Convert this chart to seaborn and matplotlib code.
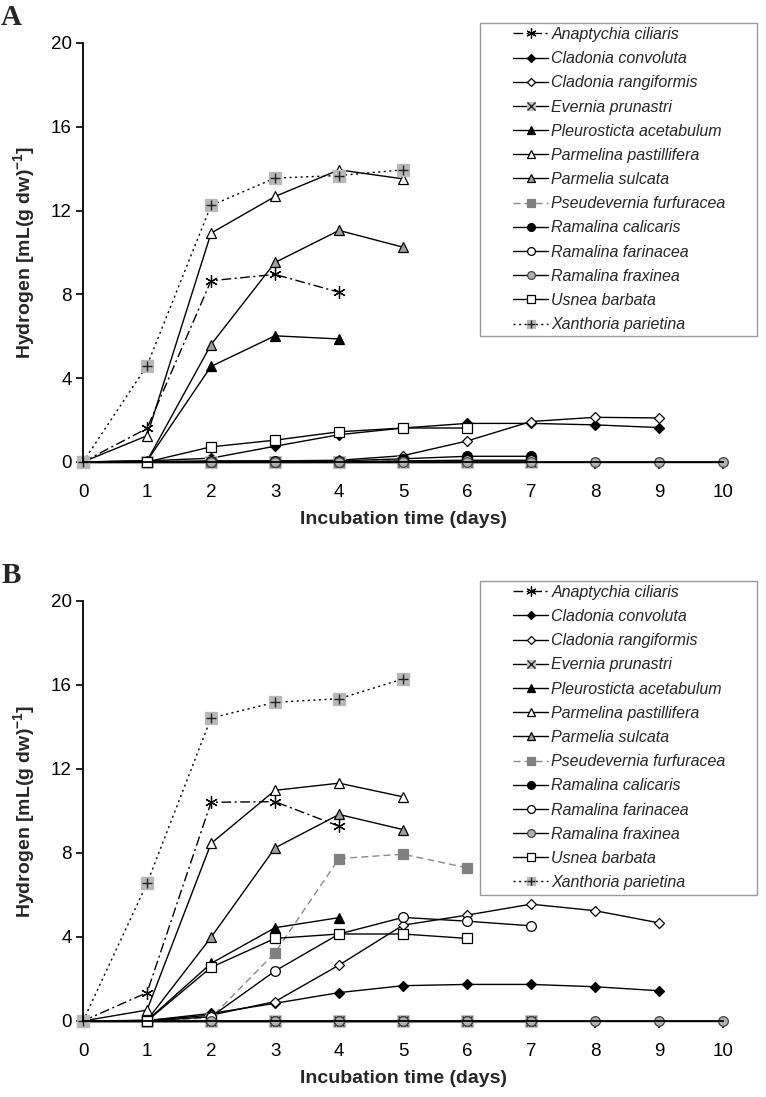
import matplotlib
matplotlib.use('Agg')
import matplotlib.pyplot as plt
import seaborn as sns
from matplotlib.lines import Line2D
from matplotlib.patches import Rectangle
from matplotlib.legend_handler import HandlerTuple

sns.set_style('ticks')
plt.rcParams['font.family'] = ['Liberation Sans', 'DejaVu Sans']
plt.rcParams['mathtext.fontset'] = 'custom'
plt.rcParams['mathtext.bf'] = 'Liberation Sans:bold'
plt.rcParams['mathtext.rm'] = 'Liberation Sans'

# data
days = [0, 1, 2, 3, 4, 5, 6, 7, 8, 9, 10]
species = ['Anaptychia ciliaris', 'Cladonia convoluta', 'Cladonia rangiformis',
           'Evernia prunastri', 'Pleurosticta acetabulum', 'Parmelina pastillifera',
           'Parmelia sulcata', 'Pseudevernia furfuracea', 'Ramalina calicaris',
           'Ramalina farinacea', 'Ramalina fraxinea', 'Usnea barbata',
           'Xanthoria parietina']
y_ticks = [0, 4, 8, 12, 16, 20]

# panel A
a_anaptychia = [0, 1.6, 8.65, 8.95, 8.1]
a_convoluta = [0, 0.05, 0.18, 0.75, 1.3, 1.62, 1.84, 1.84, 1.77, 1.64]
a_rangiformis = [0, 0.02, 0.03, 0.05, 0.08, 0.3, 1.0, 1.93, 2.13, 2.1]
a_evernia = [0, 0, 0, 0, 0, 0, 0, 0]
a_pleurosticta = [0, 0.05, 4.56, 6.02, 5.87]
a_parmelina = [0, 1.25, 10.92, 12.67, 13.94, 13.51]
a_sulcata = [0, 0.05, 5.6, 9.52, 11.05, 10.25]
a_pseudevernia = [0, 0, 0, 0, 0, 0.05, 0.05]
a_calicaris = [0, 0, 0.05, 0.05, 0.05, 0.15, 0.27, 0.27]
a_farinacea = [0, 0, 0, 0, 0, 0.05, 0.08, 0.08]
a_fraxinea = [0, 0, 0, 0, 0, 0, 0, 0, 0, 0, 0]
a_usnea = [0, 0, 0.72, 1.04, 1.44, 1.62, 1.62]
a_xanthoria = [0, 4.6, 12.24, 13.55, 13.67, 13.94]

# panel B
b_anaptychia = [0, 1.35, 10.41, 10.44, 9.27]
b_convoluta = [0, 0.02, 0.36, 0.84, 1.35, 1.68, 1.74, 1.74, 1.63, 1.44]
b_rangiformis = [0, 0.02, 0.28, 0.92, 2.66, 4.56, 5.04, 5.56, 5.25, 4.67]
b_evernia = [0, 0, 0, 0, 0, 0, 0, 0]
b_pleurosticta = [0, 0.02, 2.74, 4.44, 4.92]
b_parmelina = [0, 0.52, 8.45, 10.98, 11.32, 10.67]
b_sulcata = [0, 0.03, 3.98, 8.24, 9.83, 9.11]
b_pseudevernia = [0, 0, 0.15, 3.25, 7.73, 7.94, 7.29]
b_calicaris = [0, 0, 0, 0, 0, 0, 0, 0]
b_farinacea = [0, 0, 0.2, 2.38, 4.14, 4.93, 4.75, 4.53]
b_fraxinea = [0, 0, 0, 0, 0, 0, 0, 0, 0, 0, 0]
b_usnea = [0, 0, 2.55, 3.93, 4.14, 4.14, 3.93]
b_xanthoria = [0, 6.55, 14.42, 15.17, 15.34, 16.28]

panel_a = [a_anaptychia, a_convoluta, a_rangiformis, a_evernia, a_pleurosticta,
           a_parmelina, a_sulcata, a_pseudevernia, a_calicaris, a_farinacea,
           a_fraxinea, a_usnea, a_xanthoria]
panel_b = [b_anaptychia, b_convoluta, b_rangiformis, b_evernia, b_pleurosticta,
           b_parmelina, b_sulcata, b_pseudevernia, b_calicaris, b_farinacea,
           b_fraxinea, b_usnea, b_xanthoria]

# styles: (linestyle, line colour, marker, face, edge, size, overlay marker)
dashdot = (0, (7, 2.5, 1.5, 2.5))
styles = [
    (dashdot, 'black', (6, 2, 0), 'none', 'black', 9, None),
    ('-', 'black', 'D', 'black', 'black', 5.5, None),
    ('-', 'black', 'D', 'white', 'black', 5.5, None),
    ('-', 'black', 's', '#c4c4c4', '#c4c4c4', 8, 'x'),
    ('-', 'black', '^', 'black', 'black', 7, None),
    ('-', 'black', '^', 'white', 'black', 7.5, None),
    ('-', 'black', '^', '#a0a0a0', 'black', 7.5, None),
    ((0, (5, 3)), '#8a8a8a', 's', '#808080', '#808080', 6.5, None),
    ('-', 'black', 'o', 'black', 'black', 7, None),
    ('-', 'black', 'o', 'white', 'black', 7, None),
    ('-', 'black', 'o', '#b0b0b0', '#444444', 7, None),
    ('-', 'black', 's', 'white', 'black', 7, None),
    ((0, (1.5, 2.5)), 'black', 's', '#b8b8b8', '#b8b8b8', 8, '+'),
]

fig = plt.figure(figsize=(7.66, 10.97), dpi=100)
ax_a = fig.add_axes([0.1084, 0.5789, 0.8355, 0.382])
ax_b = fig.add_axes([0.1084, 0.0693, 0.8355, 0.383])


def draw_panel(ax, series, letter):
    for vals, st in zip(series, styles):
        ls, lc, mk, fc, ec, ms, over = st
        x = days[:len(vals)]
        sns.lineplot(x=x, y=vals, ax=ax, color=lc, linestyle=ls, linewidth=1,
                     marker=mk, markerfacecolor=fc, markeredgecolor=ec,
                     markersize=ms, markeredgewidth=0.9, clip_on=False,
                     legend=False)
        if over is not None:
            ax.plot(x, vals, linestyle='none', marker=over, color='#222222',
                    markersize=7, markeredgewidth=1, clip_on=False)
    ax.set_xlim(0, 10)
    ax.set_ylim(0, 20)
    ax.set_xticks(days)
    ax.set_yticks(y_ticks)
    sns.despine(ax=ax)
    for s in ['left', 'bottom']:
        ax.spines[s].set_linewidth(1.3)
        ax.spines[s].set_color('black')
    ax.tick_params(direction='out', length=5, width=1.2, labelsize=13.5,
                   colors='black')
    ax.tick_params(axis='x', pad=11)
    ax.tick_params(axis='y', pad=3)
    ax.set_xlabel('Incubation time (days)', fontsize=14, fontweight='bold',
                  labelpad=7)
    ax.set_ylabel(r'Hydrogen [mL(g dw)$^{\mathbf{-1}}$]', fontsize=14,
                  fontweight='bold', labelpad=9)

    handles = []
    for st in styles:
        ls, lc, mk, fc, ec, ms, over = st
        h = Line2D([], [], color=lc, linestyle=ls, linewidth=1, marker=mk,
                   markerfacecolor=fc, markeredgecolor=ec,
                   markersize=ms * 0.8, markeredgewidth=0.9)
        if over is not None:
            h2 = Line2D([], [], linestyle='none', marker=over, color='#222222',
                        markersize=5.5, markeredgewidth=1)
            h = (h, h2)
        handles.append(h)
    ax.legend(handles, species, loc='upper left',
              bbox_to_anchor=(0.672, 1.038), borderaxespad=0,
              borderpad=0, frameon=False, handlelength=2.2,
              handletextpad=0.2, labelspacing=0.575,
              prop={'style': 'italic', 'size': 11.5},
              handler_map={tuple: HandlerTuple(ndivide=1, pad=0)})
    ax.add_patch(Rectangle((0.620, 0.301), 0.433, 0.747,
                           transform=ax.transAxes, fill=False,
                           edgecolor='#9a9a9a', linewidth=1, clip_on=False))
    ax.text(-0.128, 1.06, letter, transform=ax.transAxes, fontsize=21,
            fontweight='bold', family='Liberation Serif', va='center',
            ha='left')


draw_panel(ax_a, panel_a, 'A')
draw_panel(ax_b, panel_b, 'B')

fig.savefig('out.png', dpi=100, facecolor='white')
